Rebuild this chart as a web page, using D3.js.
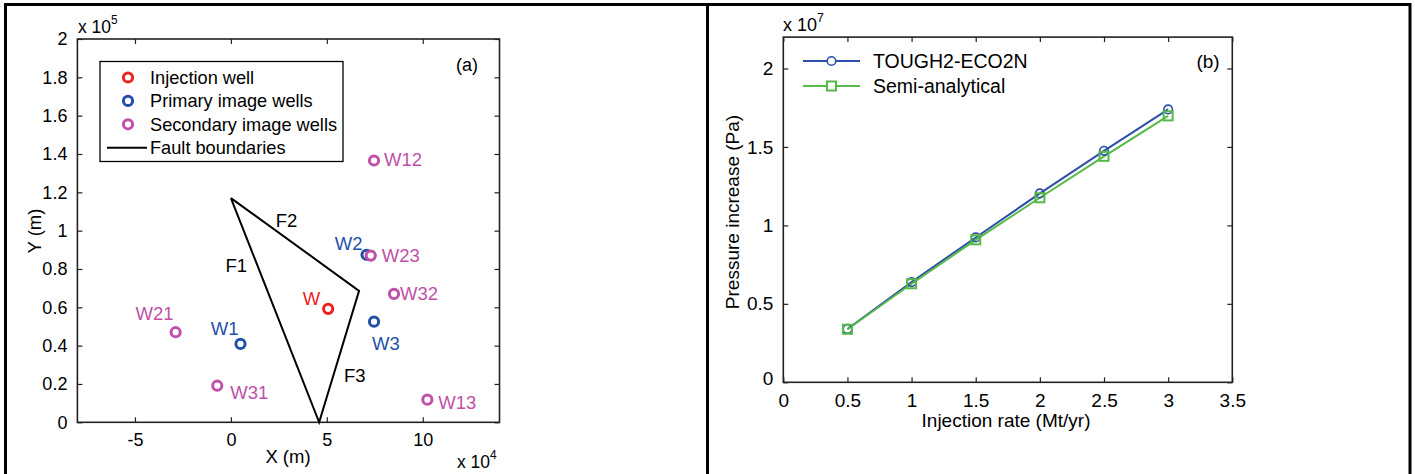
<!DOCTYPE html>
<html>
<head>
<meta charset="utf-8">
<script src="https://cdn.jsdelivr.net/npm/d3@7"></script>
<style>
  html, body { margin: 0; padding: 0; background: #fff; }
  svg { display: block; font-family: "Liberation Sans", Arial, Helvetica, sans-serif; }
</style>
</head>
<body>
<script>
// ---------- Panel (a): well locations and fault boundaries ----------
const wellNames = ["W", "W1", "W2", "W3", "W12", "W13", "W21", "W23", "W31", "W32"];
const wellX = [50700, 5000, 70700, 74600, 74600, 102400, -28800, 72900, -7100, 85000]; // m
const wellY = [59200, 40900, 87400, 52500, 136600, 11800, 47000, 87000, 19100, 67000]; // m
const wellKind = ["injection", "primary", "primary", "primary", "secondary", "secondary",
                  "secondary", "secondary", "secondary", "secondary"];

const faultX = [0, 66800, 46000, 0];        // m, closed triangle
const faultY = [117000, 68600, 0, 117000];  // m
const faultNames = ["F1", "F2", "F3"];
const faultLabelX = [-2800, 23400, 58900];
const faultLabelY = [78600, 101800, 20900];

const aXTicks = [-5, 0, 5, 10];                                   // x 10^4
const aYTicks = [0, 0.2, 0.4, 0.6, 0.8, 1, 1.2, 1.4, 1.6, 1.8, 2]; // x 10^5

const legendA = ["Injection well", "Primary image wells", "Secondary image wells", "Fault boundaries"];

// ---------- Panel (b): pressure increase vs injection rate ----------
const rates = [0.5, 1, 1.5, 2, 2.5, 3];                                   // Mt/yr
const tough2 = [0.340e7, 0.639e7, 0.923e7, 1.204e7, 1.475e7, 1.739e7];    // Pa
const semiAnalytical = [0.338e7, 0.628e7, 0.908e7, 1.176e7, 1.440e7, 1.698e7]; // Pa
const bXTicks = [0, 0.5, 1, 1.5, 2, 2.5, 3, 3.5];
const bYTicks = [0, 0.5, 1, 1.5, 2]; // x 10^7
const legendB = ["TOUGH2-ECO2N", "Semi-analytical"];

// ---------- styling ----------
const kindColor = { injection: "#ee2222", primary: "#2350a8", secondary: "#c050a8" };
const blue = "#2d4fa8", green = "#55b947";
const axisColor = "#222";

const W = 1415, H = 474;
const svg = d3.select("body").append("svg").attr("width", W).attr("height", H);
svg.append("rect").attr("width", W).attr("height", H).attr("fill", "#fff");

// frame of the two panels
const frame = svg.append("g").attr("stroke", "#000").attr("stroke-width", 3);
frame.append("line").attr("x1", 4).attr("x2", 1411).attr("y1", 4.5).attr("y2", 4.5);
frame.append("line").attr("x1", 5.5).attr("x2", 5.5).attr("y1", 3).attr("y2", H);
frame.append("line").attr("x1", 707.5).attr("x2", 707.5).attr("y1", 3).attr("y2", H);
frame.append("line").attr("x1", 1410).attr("x2", 1410).attr("y1", 3).attr("y2", H);

// Draws MATLAB-style box axes with inward ticks on all four sides
function boxAxes(g, x, y, xTicks, yTicks, xFmt, yFmt, fontSize) {
  const [x0, x1] = x.range(), [y0, y1] = y.range();
  const tick = 5;
  const bottom = g.append("g").attr("transform", `translate(0,${y0})`)
    .call(d3.axisBottom(x).tickValues(xTicks).tickSizeInner(-tick).tickSizeOuter(0)
      .tickPadding(tick + 6).tickFormat(xFmt));
  const top = g.append("g").attr("transform", `translate(0,${y1})`)
    .call(d3.axisTop(x).tickValues(xTicks).tickSizeInner(-tick).tickSizeOuter(0).tickFormat(""));
  const left = g.append("g").attr("transform", `translate(${x0},0)`)
    .call(d3.axisLeft(y).tickValues(yTicks).tickSizeInner(-tick).tickSizeOuter(0)
      .tickPadding(tick + 5).tickFormat(yFmt));
  const right = g.append("g").attr("transform", `translate(${x1},0)`)
    .call(d3.axisRight(y).tickValues(yTicks).tickSizeInner(-tick).tickSizeOuter(0).tickFormat(""));
  [bottom, top, left, right].forEach(a => {
    a.select(".domain").remove();
    a.selectAll(".tick line").attr("stroke", axisColor).attr("stroke-width", 1.2);
    a.selectAll("text").attr("fill", "#000").attr("font-size", fontSize)
      .attr("font-family", "'Liberation Sans', Arial, sans-serif");
  });
  g.append("rect").attr("x", x0).attr("y", y1).attr("width", x1 - x0).attr("height", y0 - y1)
    .attr("fill", "none").attr("stroke", axisColor).attr("stroke-width", 1.6);
  return { bottom, left };
}

// ================= Panel (a) =================
const xa = d3.scaleLinear().domain([-80000, 140000]).range([77.4, 499.5]);
const ya = d3.scaleLinear().domain([0, 200000]).range([422.3, 39]);
const ga = svg.append("g");

boxAxes(ga, xa, ya, aXTicks.map(v => v * 1e4), aYTicks.map(v => v * 1e5),
  d => aXTicks[aXTicks.findIndex(v => Math.abs(v * 1e4 - d) < 1)],
  d => aYTicks[aYTicks.findIndex(v => Math.abs(v * 1e5 - d) < 1)], 18);

// multiplier labels
const mult = (g, x, y, exp, fs) => {
  const t = g.append("text").attr("x", x).attr("y", y).attr("font-size", fs).attr("fill", "#000");
  t.append("tspan").text("x 10");
  t.append("tspan").attr("dy", -9).attr("font-size", fs * 0.68).text(exp);
};
mult(ga, 78, 33, "5", 17.5);
mult(ga, 457, 468, "4", 17.5);

ga.append("text").attr("x", 288).attr("y", 463).attr("text-anchor", "middle")
  .attr("font-size", 18.5).text("X (m)");
ga.append("text").attr("transform", "translate(41,231) rotate(-90)").attr("text-anchor", "middle")
  .attr("font-size", 18.5).text("Y (m)");
ga.append("text").attr("x", 467).attr("y", 71).attr("text-anchor", "middle")
  .attr("font-size", 18).text("(a)");

// fault boundaries
ga.append("path")
  .datum(faultX.map((v, i) => [v, faultY[i]]))
  .attr("d", d3.line().x(d => xa(d[0])).y(d => ya(d[1])))
  .attr("fill", "none").attr("stroke", "#000").attr("stroke-width", 2).attr("stroke-linejoin", "miter");
faultNames.forEach((n, i) => {
  ga.append("text").attr("x", xa(faultLabelX[i])).attr("y", ya(faultLabelY[i]))
    .attr("font-size", 18.5).attr("fill", "#000").text(n);
});

// well markers (drawn so that W23 sits on top of W2)
const wells = wellNames.map((n, i) => ({ name: n, x: wellX[i], y: wellY[i], kind: wellKind[i] }));
ga.selectAll("circle.well").data(wells).join("circle")
  .attr("class", "well")
  .attr("cx", d => xa(d.x)).attr("cy", d => ya(d.y)).attr("r", 4.6)
  .attr("fill", "#fff").attr("stroke", d => kindColor[d.kind]).attr("stroke-width", 3);

// well labels, placed beside each marker
const labelPlace = {
  W:   { dx: -8,  dy: -4,  anchor: "end" },
  W1:  { dx: -2,  dy: -9,  anchor: "end" },
  W2:  { dx: -4,  dy: -5,  anchor: "end" },
  W3:  { dx: -2,  dy: 28,  anchor: "start" },
  W12: { dx: 10,  dy: 5,   anchor: "start" },
  W13: { dx: 11,  dy: 9,   anchor: "start" },
  W21: { dx: -2,  dy: -12, anchor: "end" },
  W23: { dx: 11,  dy: 6,   anchor: "start" },
  W31: { dx: 13,  dy: 13,  anchor: "start" },
  W32: { dx: 6,   dy: 6,   anchor: "start" }
};
ga.selectAll("text.wlabel").data(wells).join("text")
  .attr("class", "wlabel")
  .attr("x", d => xa(d.x) + labelPlace[d.name].dx)
  .attr("y", d => ya(d.y) + labelPlace[d.name].dy)
  .attr("text-anchor", d => labelPlace[d.name].anchor)
  .attr("font-size", 18.5).attr("fill", d => kindColor[d.kind]).text(d => d.name);

// legend (a)
const la = ga.append("g");
la.append("rect").attr("x", 100).attr("y", 61.5).attr("width", 243).attr("height", 100)
  .attr("fill", "#fff").attr("stroke", "#000").attr("stroke-width", 1.3);
const legKinds = ["injection", "primary", "secondary"];
legendA.forEach((t, i) => {
  const cy = 77.5 + i * 23.4;
  if (i < 3) {
    la.append("circle").attr("cx", 128).attr("cy", cy).attr("r", 4.6).attr("fill", "#fff")
      .attr("stroke", kindColor[legKinds[i]]).attr("stroke-width", 3);
  } else {
    la.append("line").attr("x1", 107).attr("x2", 147).attr("y1", cy).attr("y2", cy)
      .attr("stroke", "#000").attr("stroke-width", 2);
  }
  la.append("text").attr("x", 150).attr("y", cy + 6.5).attr("font-size", 18.2).attr("fill", "#000").text(t);
});

// ================= Panel (b) =================
const xb = d3.scaleLinear().domain([0, 3.5]).range([783.3, 1232.3]);
const yb = d3.scaleLinear().domain([0, 2.2e7]).range([382.3, 37.1]);
const gb = svg.append("g");

const axB = boxAxes(gb, xb, yb, bXTicks, bYTicks.map(v => v * 1e7),
  d => String(d),
  d => bYTicks[bYTicks.findIndex(v => Math.abs(v * 1e7 - d) < 1)], 19);
// the zero label on y sits a little above the corner
axB.left.selectAll(".tick text").filter(d => d === 0).attr("dy", "0.1em");

mult(gb, 783, 31, "7", 18);
gb.append("text").attr("x", 1006).attr("y", 427).attr("text-anchor", "middle")
  .attr("font-size", 19).text("Injection rate (Mt/yr)");
gb.append("text").attr("transform", "translate(739,212) rotate(-90)").attr("text-anchor", "middle")
  .attr("font-size", 19).text("Pressure increase (Pa)");
gb.append("text").attr("x", 1208).attr("y", 68).attr("text-anchor", "middle")
  .attr("font-size", 19).text("(b)");

const line = d3.line().x(d => xb(d[0])).y(d => yb(d[1]));
const sT = rates.map((r, i) => [r, tough2[i]]);
const sS = rates.map((r, i) => [r, semiAnalytical[i]]);

gb.append("path").datum(sT).attr("d", line).attr("fill", "none").attr("stroke", blue).attr("stroke-width", 2);
gb.append("path").datum(sS).attr("d", line).attr("fill", "none").attr("stroke", green).attr("stroke-width", 2);

gb.selectAll("circle.t").data(sT).join("circle").attr("class", "t")
  .attr("cx", d => xb(d[0])).attr("cy", d => yb(d[1])).attr("r", 4.3)
  .attr("fill", "none").attr("stroke", blue).attr("stroke-width", 1.6);
gb.selectAll("rect.s").data(sS).join("rect").attr("class", "s")
  .attr("x", d => xb(d[0]) - 4.5).attr("y", d => yb(d[1]) - 4.5).attr("width", 9).attr("height", 9)
  .attr("fill", "none").attr("stroke", green).attr("stroke-width", 2);

// legend (b), no frame
const lb = gb.append("g");
[[blue, "circle"], [green, "square"]].forEach(([c, m], i) => {
  const cy = 61 + i * 25;
  lb.append("line").attr("x1", 803).attr("x2", 860).attr("y1", cy).attr("y2", cy)
    .attr("stroke", c).attr("stroke-width", 2);
  if (m === "circle") {
    lb.append("circle").attr("cx", 831.5).attr("cy", cy).attr("r", 4.3).attr("fill", "#fff")
      .attr("stroke", c).attr("stroke-width", 1.6);
  } else {
    lb.append("rect").attr("x", 827).attr("y", cy - 4.5).attr("width", 9).attr("height", 9)
      .attr("fill", "#fff").attr("stroke", c).attr("stroke-width", 2);
  }
  lb.append("text").attr("x", 873).attr("y", cy + 7).attr("font-size", 19.5).attr("fill", "#000")
    .text(legendB[i]);
});
</script>
</body>
</html>
